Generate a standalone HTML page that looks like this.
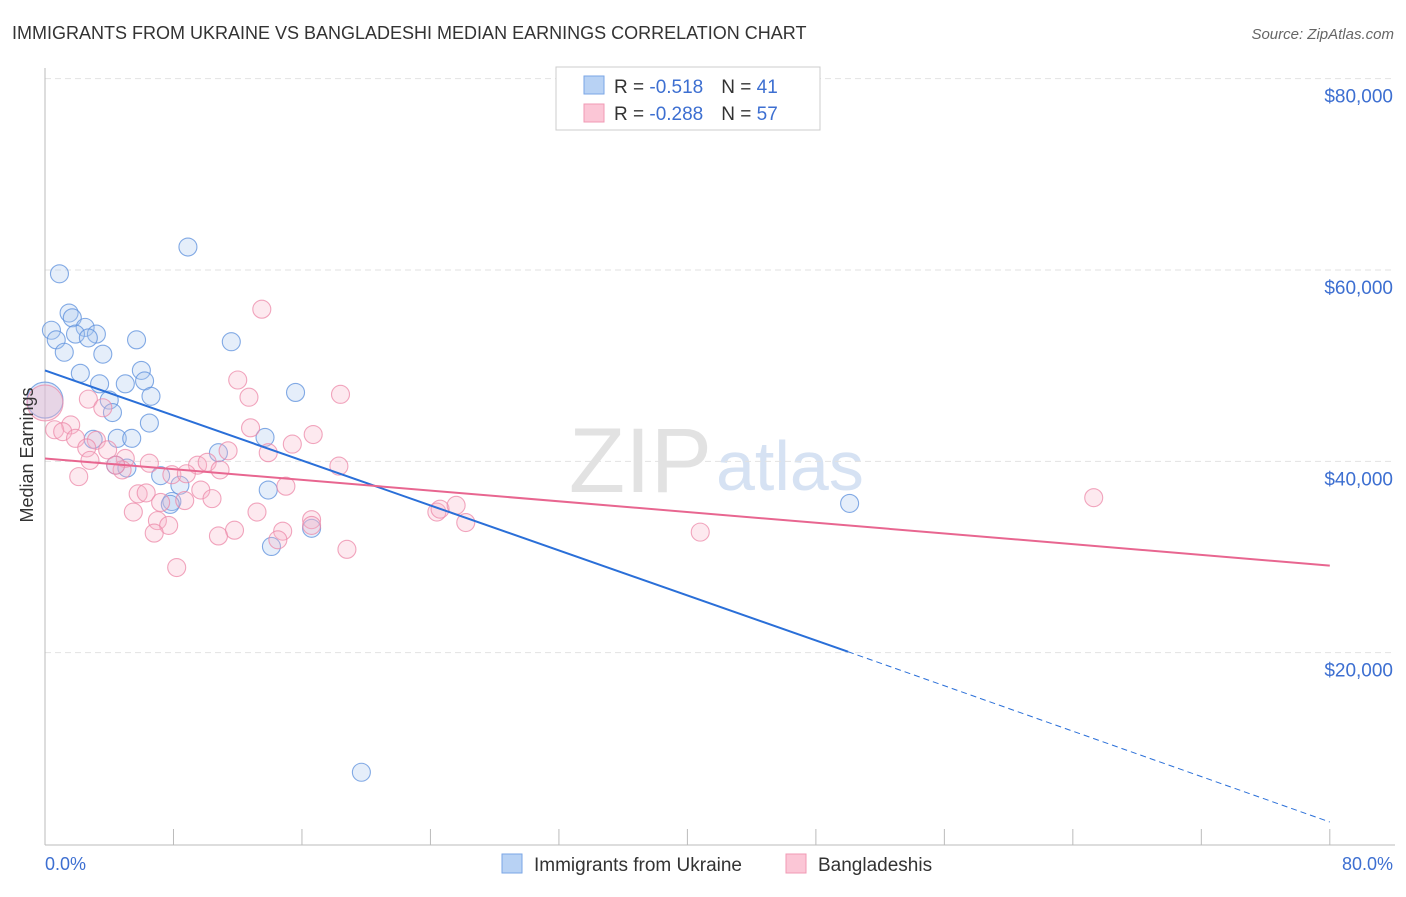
<!DOCTYPE html>
<html><head><meta charset="utf-8"><style>
body{margin:0;background:#fff;font-family:"Liberation Sans",sans-serif;}
svg text{font-family:"Liberation Sans",sans-serif;}
</style></head><body>
<svg id="chart" width="1406" height="892">
<text x="12" y="39" font-size="18" fill="#333">IMMIGRANTS FROM UKRAINE VS BANGLADESHI MEDIAN EARNINGS CORRELATION CHART</text>
<text x="1394" y="39" font-size="15" fill="#666" font-style="italic" text-anchor="end">Source: ZipAtlas.com</text>
<text x="712" y="492" font-size="92" fill="#e2e2e2" text-anchor="end" font-family="Liberation Serif">ZIP</text>
<text x="716" y="490" font-size="70" fill="#d6e2f3">atlas</text>
<g id="grid"></g><g id="axes"></g><g id="pts"></g><g id="lines"></g>
<text transform="translate(33,455) rotate(-90)" font-size="18" fill="#333" text-anchor="middle">Median Earnings</text>
<text x="45" y="870" font-size="18" fill="#3d6fd1">0.0%</text>
<text x="1393" y="870" font-size="18" fill="#3d6fd1" text-anchor="end">80.0%</text>
<g>
<rect x="556" y="67" width="264" height="63" fill="#fff" stroke="#ccc"/>
<rect x="584" y="76" width="20" height="18" fill="#b8d2f4" stroke="#7aa6e6"/>
<rect x="584" y="104" width="20" height="18" fill="#fbc6d6" stroke="#f09ab4"/>
<text x="614" y="93" font-size="19" fill="#333">R = <tspan fill="#3d6fd1">-0.518</tspan><tspan dx="18">N = </tspan><tspan fill="#3d6fd1">41</tspan></text>
<text x="614" y="120" font-size="19" fill="#333">R = <tspan fill="#3d6fd1">-0.288</tspan><tspan dx="18">N = </tspan><tspan fill="#3d6fd1">57</tspan></text>
</g>
<g>
<rect x="502" y="854" width="20" height="19" fill="#b8d2f4" stroke="#7aa6e6"/>
<text x="534" y="871" font-size="19" fill="#333">Immigrants from Ukraine</text>
<rect x="786" y="854" width="20" height="19" fill="#fbc6d6" stroke="#f09ab4"/>
<text x="818" y="871" font-size="19" fill="#333">Bangladeshis</text>
</g>
</svg>
<script>
const yTicks=[20000,40000,60000,80000];
const yTickLabels=["$20,000","$40,000","$60,000","$80,000"];
const xTicks=[0,8,16,24,32,40,48,56,64,72,80];
const ukrX=[8.9,0.9,1.5,1.7,0.4,2.5,3.2,0.7,1.9,2.7,5.7,11.6,1.2,3.6,2.2,6.0,6.2,3.4,5.0,15.6,6.6,4.0,4.2,6.5,0.0,3.0,4.5,5.4,13.7,10.8,4.4,5.1,7.2,8.4,13.9,7.9,7.8,16.6,14.1,50.1,19.7];
const ukrY=[62400,59600,55500,55000,53700,54000,53300,52700,53300,52900,52700,52500,51400,51200,49200,49500,48400,48100,48100,47200,46800,46400,45100,44000,46400,42300,42400,42400,42500,40900,39600,39300,38500,37500,37000,35800,35500,33000,31100,35600,7500];
const bgdX=[13.5,12.0,12.7,18.4,0,2.7,3.6,1.6,0.6,1.1,1.9,3.2,2.6,3.9,12.8,16.7,15.4,11.4,13.9,18.3,6.5,5.0,9.5,10.1,4.8,10.9,2.1,7.9,8.8,5.8,6.3,9.7,15.0,10.4,7.2,8.7,5.5,7.0,7.7,6.8,11.8,10.8,14.8,14.5,13.2,16.6,16.6,18.8,8.2,24.4,24.6,25.6,26.2,40.8,65.3,2.8,4.4];
const bgdY=[55900,48500,46700,47000,46100,46500,45600,43800,43300,43100,42400,42200,41400,41200,43500,42800,41800,41100,40900,39500,39800,40300,39600,39900,39100,39100,38400,38600,38700,36600,36700,37000,37400,36100,35700,35900,34700,33800,33300,32500,32800,32200,32700,31800,34700,33900,33300,30800,28900,34700,35000,35400,33600,32600,36200,40100,39600];
const ukrLine=[49500,20100,2300]; // at x = 0, 50, 80
const bgdLine=[40300,29100]; // at x = 0, 80
const sx=p=>45+p*16.06, sy=v=>844-v*0.009567;
const NS="http://www.w3.org/2000/svg";
function mk(t,a,parent){const e=document.createElementNS(NS,t);for(const k in a)e.setAttribute(k,a[k]);document.getElementById(parent).appendChild(e);return e;}
yTicks.forEach((v,i)=>{
 const l=mk('line',{x1:45,x2:1395,y1:sy(v),y2:sy(v),stroke:'#e2e2e2','stroke-dasharray':'6,4'},'grid');
 
 
 const t=mk('text',{x:1393,y:sy(v)+24,'font-size':19,fill:'#3d6fd1','text-anchor':'end'},'grid');
 t.textContent=yTickLabels[i];
 
 
});
const ax=mk('line',{x1:45,x2:45,y1:68,y2:845,stroke:'#bbb'},'axes');


const bx=mk('line',{x1:45,x2:1395,y1:845,y2:845,stroke:'#bbb'},'axes');


xTicks.forEach(p=>{
 const t=mk('line',{x1:sx(p),x2:sx(p),y1:829,y2:845,stroke:'#bbb'},'axes');
 
 
});
function pts(X,Y,fill,stroke,name){
 X.forEach((x,i)=>{
  const big=(x===0);
  const c=mk('circle',{cx:sx(x),cy:sy(Y[i]),r:big?18:9,fill:fill,'fill-opacity':big?0.4:0.3,stroke:stroke,'stroke-opacity':0.75,'stroke-width':1.1},'pts');
  
  
 });
}
pts(ukrX,ukrY,'#a9c8f0','#5b8fdc','ukraine-point');
pts(bgdX,bgdY,'#f7b6ca','#ec88a8','bangladeshi-point');
let l1=mk('line',{x1:sx(0),y1:sy(ukrLine[0]),x2:sx(50),y2:sy(ukrLine[1]),stroke:'#2a6fd8','stroke-width':2},'lines');


let l2=mk('line',{x1:sx(50),y1:sy(ukrLine[1]),x2:sx(80),y2:sy(ukrLine[2]),stroke:'#2a6fd8','stroke-width':1,'stroke-dasharray':'6,4'},'lines');


let l3=mk('line',{x1:sx(0),y1:sy(bgdLine[0]),x2:sx(80),y2:sy(bgdLine[1]),stroke:'#e86690','stroke-width':2},'lines');


</script>
</body></html>
